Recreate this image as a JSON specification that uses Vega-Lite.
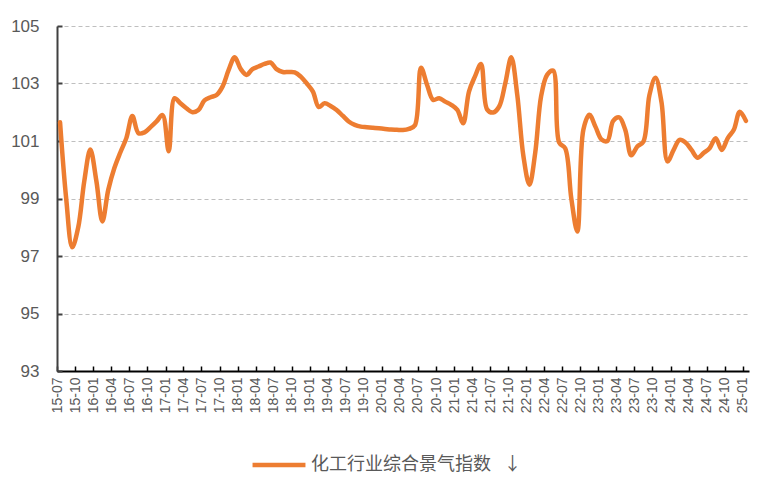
{
  "$schema": "https://vega.github.io/schema/vega-lite/v6.json",
  "width": 692,
  "height": 345,
  "autosize": "none",
  "padding": {"left": 57, "top": 26, "right": 8, "bottom": 122},
  "background": "white",
  "config": {"view": {"stroke": null}},
  "data": {
    "values": [
      {"month": "2015-07", "value": 101.65},
      {"month": "2015-08", "value": 99.0},
      {"month": "2015-09", "value": 97.3},
      {"month": "2015-10", "value": 98.0},
      {"month": "2015-11", "value": 99.6},
      {"month": "2015-12", "value": 100.7},
      {"month": "2016-01", "value": 99.6},
      {"month": "2016-02", "value": 98.2},
      {"month": "2016-03", "value": 99.3},
      {"month": "2016-04", "value": 100.05},
      {"month": "2016-05", "value": 100.6},
      {"month": "2016-06", "value": 101.1},
      {"month": "2016-07", "value": 101.87},
      {"month": "2016-08", "value": 101.27},
      {"month": "2016-09", "value": 101.3},
      {"month": "2016-10", "value": 101.48},
      {"month": "2016-11", "value": 101.68},
      {"month": "2016-12", "value": 101.9},
      {"month": "2017-01", "value": 100.64},
      {"month": "2017-02", "value": 102.49},
      {"month": "2017-03", "value": 102.31},
      {"month": "2017-04", "value": 102.14},
      {"month": "2017-05", "value": 102.0},
      {"month": "2017-06", "value": 102.08},
      {"month": "2017-07", "value": 102.41},
      {"month": "2017-08", "value": 102.52},
      {"month": "2017-09", "value": 102.6},
      {"month": "2017-10", "value": 102.9},
      {"month": "2017-11", "value": 103.47},
      {"month": "2017-12", "value": 103.91},
      {"month": "2018-01", "value": 103.5},
      {"month": "2018-02", "value": 103.3},
      {"month": "2018-03", "value": 103.5},
      {"month": "2018-04", "value": 103.59},
      {"month": "2018-05", "value": 103.68},
      {"month": "2018-06", "value": 103.73},
      {"month": "2018-07", "value": 103.5},
      {"month": "2018-08", "value": 103.4},
      {"month": "2018-09", "value": 103.4},
      {"month": "2018-10", "value": 103.39},
      {"month": "2018-11", "value": 103.24},
      {"month": "2018-12", "value": 103.0},
      {"month": "2019-01", "value": 102.72},
      {"month": "2019-02", "value": 102.18},
      {"month": "2019-03", "value": 102.31},
      {"month": "2019-04", "value": 102.22},
      {"month": "2019-05", "value": 102.08},
      {"month": "2019-06", "value": 101.88},
      {"month": "2019-07", "value": 101.68},
      {"month": "2019-08", "value": 101.56},
      {"month": "2019-09", "value": 101.5},
      {"month": "2019-10", "value": 101.48},
      {"month": "2019-11", "value": 101.46},
      {"month": "2019-12", "value": 101.44},
      {"month": "2020-01", "value": 101.42},
      {"month": "2020-02", "value": 101.4},
      {"month": "2020-03", "value": 101.39},
      {"month": "2020-04", "value": 101.38},
      {"month": "2020-05", "value": 101.42},
      {"month": "2020-06", "value": 101.55},
      {"month": "2020-07", "value": 103.55},
      {"month": "2020-08", "value": 102.95},
      {"month": "2020-09", "value": 102.43},
      {"month": "2020-10", "value": 102.49},
      {"month": "2020-11", "value": 102.37},
      {"month": "2020-12", "value": 102.26},
      {"month": "2021-01", "value": 102.08},
      {"month": "2021-02", "value": 101.62},
      {"month": "2021-03", "value": 102.72},
      {"month": "2021-04", "value": 103.25},
      {"month": "2021-05", "value": 103.68},
      {"month": "2021-06", "value": 102.1},
      {"month": "2021-07", "value": 101.99},
      {"month": "2021-08", "value": 102.2},
      {"month": "2021-09", "value": 103.0},
      {"month": "2021-10", "value": 103.91},
      {"month": "2021-11", "value": 102.6},
      {"month": "2021-12", "value": 100.5},
      {"month": "2022-01", "value": 99.48},
      {"month": "2022-02", "value": 100.6},
      {"month": "2022-03", "value": 102.55},
      {"month": "2022-04", "value": 103.3},
      {"month": "2022-05", "value": 103.45},
      {"month": "2022-06", "value": 100.95},
      {"month": "2022-07", "value": 100.75},
      {"month": "2022-08", "value": 99.0},
      {"month": "2022-09", "value": 97.85},
      {"month": "2022-10", "value": 101.39},
      {"month": "2022-11", "value": 101.91},
      {"month": "2022-12", "value": 101.5},
      {"month": "2023-01", "value": 101.05},
      {"month": "2023-02", "value": 101.0},
      {"month": "2023-03", "value": 101.7},
      {"month": "2023-04", "value": 101.82},
      {"month": "2023-05", "value": 101.39},
      {"month": "2023-06", "value": 100.5},
      {"month": "2023-07", "value": 100.81},
      {"month": "2023-08", "value": 100.98},
      {"month": "2023-09", "value": 102.6},
      {"month": "2023-10", "value": 103.2},
      {"month": "2023-11", "value": 102.35},
      {"month": "2023-12", "value": 100.29},
      {"month": "2024-01", "value": 100.69},
      {"month": "2024-02", "value": 101.04},
      {"month": "2024-03", "value": 100.95},
      {"month": "2024-04", "value": 100.69},
      {"month": "2024-05", "value": 100.42},
      {"month": "2024-06", "value": 100.58},
      {"month": "2024-07", "value": 100.75},
      {"month": "2024-08", "value": 101.1},
      {"month": "2024-09", "value": 100.69},
      {"month": "2024-10", "value": 101.1},
      {"month": "2024-11", "value": 101.39},
      {"month": "2024-12", "value": 102.02},
      {"month": "2025-01", "value": 101.7}
    ]
  },
  "mark": {"type": "line", "interpolate": "catmull-rom", "strokeWidth": 4.5, "strokeCap": "round", "strokeJoin": "round"},
  "encoding": {
    "x": {
      "field": "month",
      "timeUnit": "yearmonth",
      "type": "temporal",
      "bandPosition": 0.5,
      "scale": {"domain": [{"year": 2015, "month": "jul", "date": 1}, {"year": 2025, "month": "feb", "date": 1}]},
      "axis": {
        "title": null,
        "format": "%y-%m",
        "labelAngle": 270,
        "tickCount": {"interval": "month", "step": 3},
        "grid": false,
        "domainColor": "#000000",
        "domainWidth": 2,
        "tickColor": "#000000",
        "tickWidth": 1.5,
        "tickSize": -5,
        "labelPadding": 11,
        "labelFont": "Liberation Sans",
        "labelFontSize": 14,
        "labelColor": "#595959",
        "labelOverlap": false,
        "labelBound": false,
        "labelFlush": false
      }
    },
    "y": {
      "field": "value",
      "type": "quantitative",
      "scale": {"domain": [93, 105], "zero": false, "nice": false},
      "axis": {
        "title": null,
        "values": [93, 95, 97, 99, 101, 103, 105],
        "grid": true,
        "gridDash": [4, 3],
        "gridColor": "#BFBFBF",
        "gridWidth": 1.2,
        "domainColor": "#404040",
        "domainWidth": 2,
        "tickColor": "#404040",
        "tickWidth": 2,
        "tickSize": -5,
        "labelPadding": 23,
        "labelFont": "Liberation Sans",
        "labelFontSize": 17,
        "labelColor": "#595959"
      }
    },
    "color": {
      "datum": "化工行业综合景气指数",
      "scale": {"range": ["#ED7D31"]},
      "legend": {
        "title": null,
        "orient": "none",
        "legendX": 193,
        "legendY": 410,
        "padding": 0,
        "symbolType": "stroke",
        "symbolSize": 2800,
        "symbolStrokeWidth": 4.5,
        "labelFont": "Noto Sans CJK SC",
        "labelFontSize": 18,
        "labelColor": "#595959",
        "labelOffset": 3,
        "labelLimit": 0,
        "labelExpr": "datum.label + '\u2002\u2009↓'"
      }
    }
  }
}
